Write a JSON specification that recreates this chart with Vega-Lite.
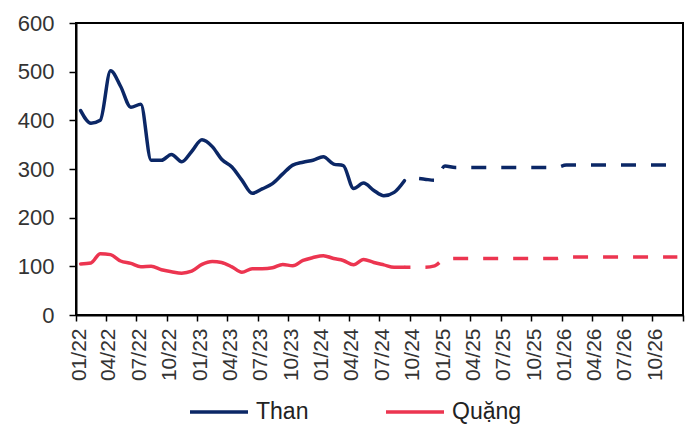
{
  "$schema": "https://vega.github.io/schema/vega-lite/v6.json",
  "width": 607,
  "height": 292,
  "autosize": {"type": "none"},
  "padding": {"left": 76, "top": 23, "right": 9, "bottom": 111},
  "background": "white",
  "config": {
    "font": "Liberation Sans",
    "view": {"stroke": "#000000", "strokeWidth": 2},
    "axis": {"grid": false, "title": null, "domainColor": "#000000", "domainWidth": 2, "tickColor": "#000000", "tickWidth": 1.5, "labelColor": "#333333", "labelFont": "Liberation Sans"}
  },
  "data": {
    "values": [
      {"date": "2022-01-15", "series": "Than", "kind": "actual", "value": 420},
      {"date": "2022-02-15", "series": "Than", "kind": "actual", "value": 394},
      {"date": "2022-03-15", "series": "Than", "kind": "actual", "value": 400},
      {"date": "2022-04-15", "series": "Than", "kind": "actual", "value": 502},
      {"date": "2022-05-15", "series": "Than", "kind": "actual", "value": 470},
      {"date": "2022-06-15", "series": "Than", "kind": "actual", "value": 427},
      {"date": "2022-07-15", "series": "Than", "kind": "actual", "value": 433},
      {"date": "2022-08-15", "series": "Than", "kind": "actual", "value": 318},
      {"date": "2022-09-15", "series": "Than", "kind": "actual", "value": 318},
      {"date": "2022-10-15", "series": "Than", "kind": "actual", "value": 330},
      {"date": "2022-11-15", "series": "Than", "kind": "actual", "value": 315},
      {"date": "2022-12-15", "series": "Than", "kind": "actual", "value": 336},
      {"date": "2023-01-15", "series": "Than", "kind": "actual", "value": 360},
      {"date": "2023-02-15", "series": "Than", "kind": "actual", "value": 346},
      {"date": "2023-03-15", "series": "Than", "kind": "actual", "value": 320},
      {"date": "2023-04-15", "series": "Than", "kind": "actual", "value": 304},
      {"date": "2023-05-15", "series": "Than", "kind": "actual", "value": 277},
      {"date": "2023-06-15", "series": "Than", "kind": "actual", "value": 250},
      {"date": "2023-07-15", "series": "Than", "kind": "actual", "value": 259},
      {"date": "2023-08-15", "series": "Than", "kind": "actual", "value": 270},
      {"date": "2023-09-15", "series": "Than", "kind": "actual", "value": 290},
      {"date": "2023-10-15", "series": "Than", "kind": "actual", "value": 308},
      {"date": "2023-11-15", "series": "Than", "kind": "actual", "value": 314},
      {"date": "2023-12-15", "series": "Than", "kind": "actual", "value": 318},
      {"date": "2024-01-15", "series": "Than", "kind": "actual", "value": 325},
      {"date": "2024-02-15", "series": "Than", "kind": "actual", "value": 310},
      {"date": "2024-03-15", "series": "Than", "kind": "actual", "value": 307},
      {"date": "2024-04-15", "series": "Than", "kind": "actual", "value": 260},
      {"date": "2024-05-15", "series": "Than", "kind": "actual", "value": 271},
      {"date": "2024-06-15", "series": "Than", "kind": "actual", "value": 256},
      {"date": "2024-07-15", "series": "Than", "kind": "actual", "value": 245},
      {"date": "2024-08-15", "series": "Than", "kind": "actual", "value": 252},
      {"date": "2024-09-15", "series": "Than", "kind": "actual", "value": 276},
      {"date": "2024-09-15", "series": "Than", "kind": "forecast", "value": 276},
      {"date": "2024-10-15", "series": "Than", "kind": "forecast", "value": 281},
      {"date": "2024-11-15", "series": "Than", "kind": "forecast", "value": 279},
      {"date": "2024-12-15", "series": "Than", "kind": "forecast", "value": 277},
      {"date": "2025-01-15", "series": "Than", "kind": "forecast", "value": 306},
      {"date": "2025-02-15", "series": "Than", "kind": "forecast", "value": 303},
      {"date": "2025-03-15", "series": "Than", "kind": "forecast", "value": 303},
      {"date": "2025-04-15", "series": "Than", "kind": "forecast", "value": 303},
      {"date": "2025-05-15", "series": "Than", "kind": "forecast", "value": 303},
      {"date": "2025-06-15", "series": "Than", "kind": "forecast", "value": 303},
      {"date": "2025-07-15", "series": "Than", "kind": "forecast", "value": 303},
      {"date": "2025-08-15", "series": "Than", "kind": "forecast", "value": 303},
      {"date": "2025-09-15", "series": "Than", "kind": "forecast", "value": 303},
      {"date": "2025-10-15", "series": "Than", "kind": "forecast", "value": 303},
      {"date": "2025-11-15", "series": "Than", "kind": "forecast", "value": 303},
      {"date": "2025-12-15", "series": "Than", "kind": "forecast", "value": 303},
      {"date": "2026-01-15", "series": "Than", "kind": "forecast", "value": 308},
      {"date": "2026-02-15", "series": "Than", "kind": "forecast", "value": 308},
      {"date": "2026-03-15", "series": "Than", "kind": "forecast", "value": 308},
      {"date": "2026-04-15", "series": "Than", "kind": "forecast", "value": 308},
      {"date": "2026-05-15", "series": "Than", "kind": "forecast", "value": 308},
      {"date": "2026-06-15", "series": "Than", "kind": "forecast", "value": 308},
      {"date": "2026-07-15", "series": "Than", "kind": "forecast", "value": 308},
      {"date": "2026-08-15", "series": "Than", "kind": "forecast", "value": 308},
      {"date": "2026-09-15", "series": "Than", "kind": "forecast", "value": 308},
      {"date": "2026-10-15", "series": "Than", "kind": "forecast", "value": 308},
      {"date": "2026-11-15", "series": "Than", "kind": "forecast", "value": 308},
      {"date": "2026-12-15", "series": "Than", "kind": "forecast", "value": 308},
      {"date": "2022-01-15", "series": "Quặng", "kind": "actual", "value": 105},
      {"date": "2022-02-15", "series": "Quặng", "kind": "actual", "value": 107},
      {"date": "2022-03-15", "series": "Quặng", "kind": "actual", "value": 126},
      {"date": "2022-04-15", "series": "Quặng", "kind": "actual", "value": 124},
      {"date": "2022-05-15", "series": "Quặng", "kind": "actual", "value": 111},
      {"date": "2022-06-15", "series": "Quặng", "kind": "actual", "value": 106},
      {"date": "2022-07-15", "series": "Quặng", "kind": "actual", "value": 99},
      {"date": "2022-08-15", "series": "Quặng", "kind": "actual", "value": 100},
      {"date": "2022-09-15", "series": "Quặng", "kind": "actual", "value": 93},
      {"date": "2022-10-15", "series": "Quặng", "kind": "actual", "value": 89},
      {"date": "2022-11-15", "series": "Quặng", "kind": "actual", "value": 86},
      {"date": "2022-12-15", "series": "Quặng", "kind": "actual", "value": 90},
      {"date": "2023-01-15", "series": "Quặng", "kind": "actual", "value": 104},
      {"date": "2023-02-15", "series": "Quặng", "kind": "actual", "value": 110},
      {"date": "2023-03-15", "series": "Quặng", "kind": "actual", "value": 108},
      {"date": "2023-04-15", "series": "Quặng", "kind": "actual", "value": 99},
      {"date": "2023-05-15", "series": "Quặng", "kind": "actual", "value": 88},
      {"date": "2023-06-15", "series": "Quặng", "kind": "actual", "value": 95},
      {"date": "2023-07-15", "series": "Quặng", "kind": "actual", "value": 95},
      {"date": "2023-08-15", "series": "Quặng", "kind": "actual", "value": 97},
      {"date": "2023-09-15", "series": "Quặng", "kind": "actual", "value": 104},
      {"date": "2023-10-15", "series": "Quặng", "kind": "actual", "value": 101},
      {"date": "2023-11-15", "series": "Quặng", "kind": "actual", "value": 112},
      {"date": "2023-12-15", "series": "Quặng", "kind": "actual", "value": 118},
      {"date": "2024-01-15", "series": "Quặng", "kind": "actual", "value": 122},
      {"date": "2024-02-15", "series": "Quặng", "kind": "actual", "value": 116},
      {"date": "2024-03-15", "series": "Quặng", "kind": "actual", "value": 112},
      {"date": "2024-04-15", "series": "Quặng", "kind": "actual", "value": 103},
      {"date": "2024-05-15", "series": "Quặng", "kind": "actual", "value": 114},
      {"date": "2024-06-15", "series": "Quặng", "kind": "actual", "value": 108},
      {"date": "2024-07-15", "series": "Quặng", "kind": "actual", "value": 103},
      {"date": "2024-08-15", "series": "Quặng", "kind": "actual", "value": 98},
      {"date": "2024-09-15", "series": "Quặng", "kind": "actual", "value": 98},
      {"date": "2024-09-15", "series": "Quặng", "kind": "forecast", "value": 98},
      {"date": "2024-10-15", "series": "Quặng", "kind": "forecast", "value": 98},
      {"date": "2024-11-15", "series": "Quặng", "kind": "forecast", "value": 98},
      {"date": "2024-12-15", "series": "Quặng", "kind": "forecast", "value": 101},
      {"date": "2025-01-15", "series": "Quặng", "kind": "forecast", "value": 115},
      {"date": "2025-02-15", "series": "Quặng", "kind": "forecast", "value": 116},
      {"date": "2025-03-15", "series": "Quặng", "kind": "forecast", "value": 116},
      {"date": "2025-04-15", "series": "Quặng", "kind": "forecast", "value": 116},
      {"date": "2025-05-15", "series": "Quặng", "kind": "forecast", "value": 116},
      {"date": "2025-06-15", "series": "Quặng", "kind": "forecast", "value": 116},
      {"date": "2025-07-15", "series": "Quặng", "kind": "forecast", "value": 116},
      {"date": "2025-08-15", "series": "Quặng", "kind": "forecast", "value": 116},
      {"date": "2025-09-15", "series": "Quặng", "kind": "forecast", "value": 116},
      {"date": "2025-10-15", "series": "Quặng", "kind": "forecast", "value": 116},
      {"date": "2025-11-15", "series": "Quặng", "kind": "forecast", "value": 116},
      {"date": "2025-12-15", "series": "Quặng", "kind": "forecast", "value": 116},
      {"date": "2026-01-15", "series": "Quặng", "kind": "forecast", "value": 119},
      {"date": "2026-02-15", "series": "Quặng", "kind": "forecast", "value": 119},
      {"date": "2026-03-15", "series": "Quặng", "kind": "forecast", "value": 119},
      {"date": "2026-04-15", "series": "Quặng", "kind": "forecast", "value": 119},
      {"date": "2026-05-15", "series": "Quặng", "kind": "forecast", "value": 119},
      {"date": "2026-06-15", "series": "Quặng", "kind": "forecast", "value": 119},
      {"date": "2026-07-15", "series": "Quặng", "kind": "forecast", "value": 119},
      {"date": "2026-08-15", "series": "Quặng", "kind": "forecast", "value": 119},
      {"date": "2026-09-15", "series": "Quặng", "kind": "forecast", "value": 119},
      {"date": "2026-10-15", "series": "Quặng", "kind": "forecast", "value": 119},
      {"date": "2026-11-15", "series": "Quặng", "kind": "forecast", "value": 119},
      {"date": "2026-12-15", "series": "Quặng", "kind": "forecast", "value": 119}
    ]
  },
  "encoding": {
    "x": {
      "field": "date",
      "type": "temporal",
      "scale": {"type": "utc", "domain": [{"year": 2022, "month": 1, "date": 1, "utc": true}, {"year": 2027, "month": 1, "date": 1, "utc": true}], "nice": false},
      "axis": {
        "tickCount": {"interval": "month", "step": 3},
        "labelExpr": "utcyear(datum.value) >= 2027 ? '' : utcFormat(datum.value, '%m/%y')",
        "labelAngle": -90,
        "labelAlign": "right",
        "labelBaseline": "middle",
        "labelFontSize": 21,
        "labelPadding": 7,
        "labelOffset": 3,
        "tickSize": 6,
        "labelOverlap": false,
        "labelFlush": false,
        "labelBound": false
      }
    },
    "y": {
      "field": "value",
      "type": "quantitative",
      "scale": {"domain": [0, 600], "nice": false},
      "axis": {"values": [0, 100, 200, 300, 400, 500, 600], "labelFontSize": 22, "tickSize": 7, "labelPadding": 15}
    },
    "color": {
      "field": "series",
      "type": "nominal",
      "scale": {"domain": ["Than", "Quặng"], "range": ["#0B2766", "#EC3550"]},
      "legend": {
        "title": null,
        "orient": "none",
        "legendX": 112,
        "legendY": 358,
        "direction": "horizontal",
        "symbolType": "stroke",
        "symbolSize": 3364,
        "symbolStrokeWidth": 3.5,
        "symbolDash": [1, 0],
        "labelFontSize": 23,
        "labelColor": "#222222",
        "labelOffset": 6,
        "columnPadding": 70,
        "padding": 0
      }
    }
  },
  "layer": [
    {
      "transform": [{"filter": "datum.kind === 'actual'"}],
      "mark": {"type": "line", "interpolate": "monotone", "strokeWidth": 3.5, "strokeCap": "round", "strokeJoin": "round"}
    },
    {
      "transform": [{"filter": "datum.kind === 'forecast' && datum.series === 'Than'"}],
      "mark": {"type": "line", "interpolate": "monotone", "strokeWidth": 3.5, "strokeDash": [15, 15], "strokeDashOffset": 15}
    },
    {
      "transform": [{"filter": "datum.kind === 'forecast' && datum.series === 'Quặng'"}],
      "mark": {"type": "line", "interpolate": "monotone", "strokeWidth": 3.5, "strokeDash": [15, 15], "strokeDashOffset": 9}
    }
  ]
}
